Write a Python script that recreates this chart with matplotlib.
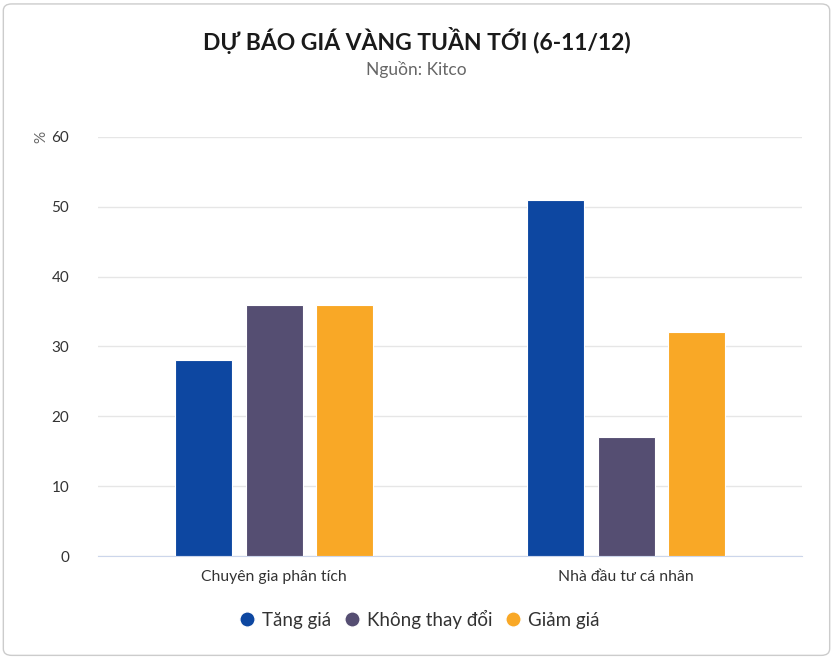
import matplotlib
matplotlib.use("Agg")
import matplotlib.pyplot as plt
from matplotlib.patches import FancyBboxPatch
from matplotlib.lines import Line2D
import numpy as np

plt.rcParams['font.family'] = ['Lato', 'DejaVu Sans']

categories = ["Chuyên gia phân tích", "Nhà đầu tư cá nhân"]
series_names = ["Tăng giá", "Không thay đổi", "Giảm giá"]
values = {
    "Tăng giá": [28, 51],
    "Không thay đổi": [36, 17],
    "Giảm giá": [36, 32],
}
colors = ["#0d47a1", "#554e72", "#f9a826"]
yticks = [0, 10, 20, 30, 40, 50, 60]

fig = plt.figure(figsize=(8.33, 6.58), dpi=100)
border = FancyBboxPatch((0.004, 0.004), 0.992, 0.99, boxstyle="round,pad=0,rounding_size=0.01",
                        transform=fig.transFigure, facecolor="none", edgecolor="#cccccc", lw=1,
                        zorder=-1)
fig.patches.append(border)

ax = fig.add_axes([0.118, 0.155, 0.845, 0.637])
ax.set_facecolor("none")
x = np.arange(len(categories))
bw = 0.162
sp = 0.2
for i, (name, c) in enumerate(zip(series_names, colors)):
    ax.bar(x + (i - 1) * sp, values[name], width=bw, color=c, edgecolor="white", linewidth=0.8, zorder=3)

ax.set_xlim(-0.5, 1.5)
ax.set_ylim(0, 60)
ax.set_yticks(yticks)
ax.set_yticklabels([str(t) for t in yticks], fontsize=11, color="#333333")
ax.set_xticks(x)
ax.set_xticklabels(categories, fontsize=11.3, color="#333333")
ax.tick_params(axis='both', length=0)
ax.tick_params(axis='y', pad=21)
ax.tick_params(axis='x', pad=10)
ax.grid(axis='y', color="#e6e6e6", lw=1, zorder=0)
for s in ["top", "right", "left"]:
    ax.spines[s].set_visible(False)
ax.spines["bottom"].set_color("#ccd6eb")
ax.set_ylabel("%", fontsize=11, color="#666666", rotation=90)
ax.yaxis.set_label_coords(-0.071, 1.0)

fig.text(0.5, 0.939, "DỰ BÁO GIÁ VÀNG TUẦN TỚI (6-11/12)", ha="center", va="center",
         fontsize=16.5, fontweight="bold", color="#1a1a1a")
fig.text(0.5, 0.895, "Nguồn: Kitco", ha="center", va="center", fontsize=12.5, color="#666666")

handles = [Line2D([0], [0], marker='o', color='w', markerfacecolor=c, markersize=11, lw=0)
           for c in colors]
fig.legend(handles, series_names, loc="center", bbox_to_anchor=(0.503, 0.059), ncol=3,
           frameon=False, fontsize=13.5, handlelength=1.0, handletextpad=0.3, columnspacing=0.6,
           labelcolor="#333333")

fig.savefig("out.png", dpi=100)
